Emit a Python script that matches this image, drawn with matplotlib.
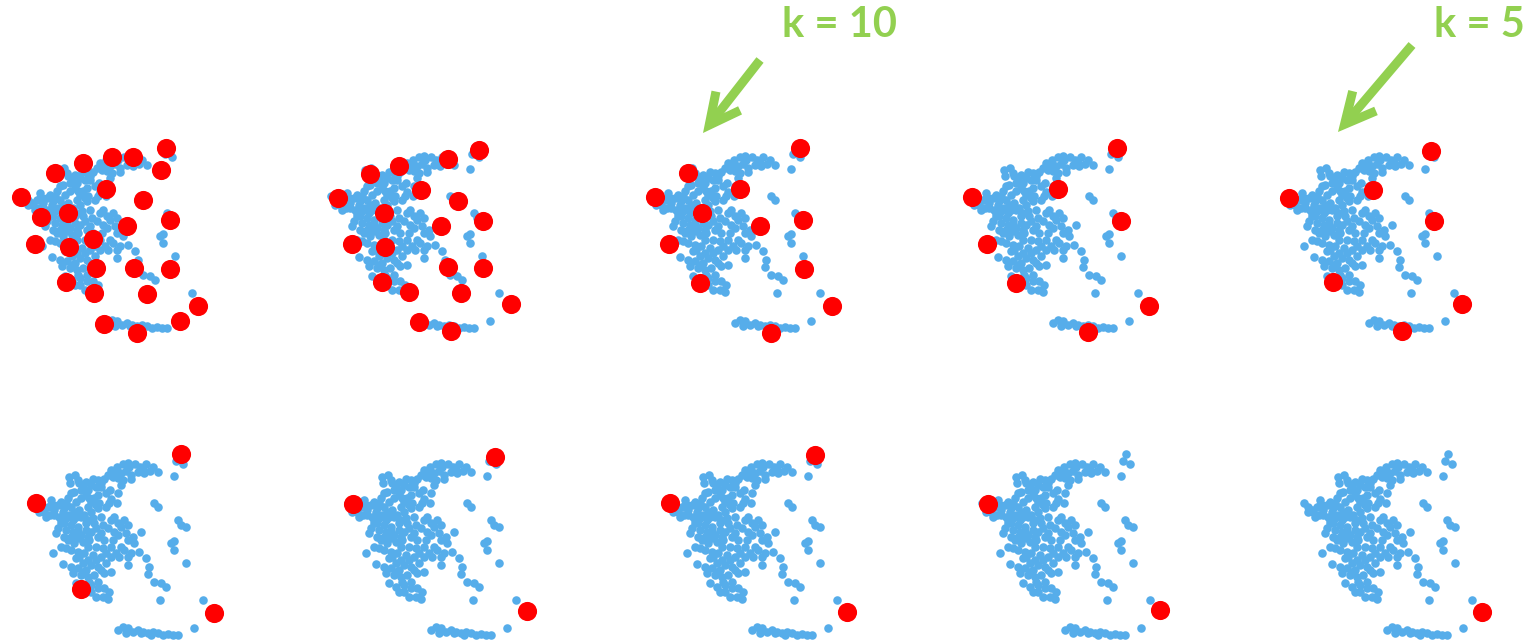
import numpy as np
import matplotlib.pyplot as plt

# point cloud (local panel coords, y grows downward)
cloud_x = np.array([
    505, 495, 517, 490,
    300, 318, 335, 350, 372, 388, 405, 418, 400, 380, 360, 345, 330, 320, 335, 360, 305,
    175, 192, 178, 205, 225, 245, 262, 280, 255, 240, 210, 190, 180, 225, 260, 297, 330, 300, 320, 318, 295, 265, 240, 235,
    72, 85, 100, 118, 95, 120, 140, 150, 165, 180, 130, 155, 145, 175, 205, 195, 220, 240, 260, 270, 245,
    160, 180, 200, 225, 250, 275, 300, 290, 330, 350, 345, 320, 305, 280, 260, 240, 210, 185, 165, 135, 170, 190, 215, 235,
    300, 330, 350, 390, 125, 180, 200, 220, 245, 270, 300, 325, 350, 285, 260, 240, 215, 195, 155, 180, 350, 300, 280, 250,
    230, 210, 195, 215, 240, 260, 240, 255, 275, 290, 280, 215,
    200, 215, 230, 270, 285, 250, 210, 195, 170, 110, 125, 160, 190, 210, 230, 185, 165, 150, 140, 200,
    225, 255, 270, 230, 200, 180, 160, 150, 165, 230, 255, 275, 285, 205, 230, 255, 270, 225, 200, 185,
    235, 225, 260, 295, 315, 340, 310, 320, 340, 310, 285, 255, 230, 365, 370, 360, 385, 270, 290, 315,
    355, 395, 425, 440, 150, 120, 85, 105, 130,
    430, 440, 500, 510, 525, 490, 480, 490, 525, 405, 415, 410, 430, 450, 465, 447, 575, 550,
    320, 335, 350, 365, 380, 395, 410, 425, 440, 455, 470, 485, 500, 345, 390, 420,
]) / 3.0
cloud_y = np.array([
    42, 62, 72, 108,
    90, 82, 72, 68, 72, 82, 72, 92, 100, 95, 105, 92, 100, 115, 120, 118, 110,
    112, 105, 130, 128, 125, 118, 120, 118, 140, 135, 150, 155, 160, 165, 165, 150, 135, 178, 160, 190, 190, 190, 185, 175,
    188, 200, 215, 225, 210, 180, 195, 185, 190, 200, 210, 215, 230, 225, 210, 230, 225, 215, 205, 230, 235,
    250, 255, 260, 250, 250, 255, 240, 265, 260, 255, 280, 285, 300, 300, 290, 275, 285, 275, 270, 280, 300, 310, 305, 300,
    320, 320, 300, 275, 338, 330, 335, 340, 345, 350, 350, 350, 350, 370, 380, 375, 370, 355, 372, 380, 375, 395, 400, 405,
    410, 405, 430, 440, 435, 425, 455, 470, 470, 478, 445, 395,
    120, 140, 150, 140, 160, 175, 175, 185, 175, 200, 195, 205, 215, 230, 240, 240, 235, 250, 265, 275,
    270, 265, 280, 290, 295, 290, 290, 320, 325, 320, 320, 325, 340, 350, 360, 360, 390, 390, 385, 400,
    425, 455, 445, 455, 340, 330, 230, 250, 240, 275, 200, 195, 200, 290, 310, 340, 335, 130, 105, 100,
    82, 90, 80, 95, 240, 195, 215, 230, 225,
    188, 200, 240, 255, 262, 302, 310, 330, 370, 355, 380, 402, 425, 430, 440, 480, 480, 565,
    570, 560, 565, 575, 570, 575, 580, 575, 580, 585, 582, 585, 585, 578, 580, 585,
]) / 3.0

# centres per panel, top row then bottom row
top_centres = [
    [(166, 15), (161, 37), (133, 24), (112, 24), (83, 30), (55, 40), (106, 56), (21, 64),
     (143, 67), (41, 84), (68, 80), (170, 87), (127, 93), (35, 111), (69, 114), (93, 106),
     (96, 135), (134, 135), (170, 136), (66, 149), (94, 160), (147, 161), (198, 173),
     (180, 188), (104, 191), (137, 200)],
    [(172, 17), (141, 26), (92, 33), (63, 41), (114, 57), (31, 65), (151, 68), (77, 80),
     (176, 88), (134, 93), (45, 111), (78, 114), (141, 134), (176, 135), (75, 149),
     (102, 159), (154, 160), (204, 171), (112, 189), (144, 198)],
    [(172, 15), (60, 40), (112, 56), (27, 64), (74, 80), (175, 87), (132, 93), (41, 111),
     (176, 136), (72, 150), (204, 173), (143, 200)],
    [(171, 15), (112, 56), (26, 64), (175, 88), (41, 111), (70, 150), (203, 173), (142, 199)],
    [(169, 18), (111, 57), (27, 65), (172, 88), (71, 149), (200, 171), (140, 198)],
]
bottom_centres = [
    [(170, 14), (25, 63), (70, 149), (203, 173)],
    [(171, 17), (29, 64), (203, 171)],
    [(170, 15), (25, 63), (202, 172)],
    [(30, 64), (202, 170)],
    [(202, 172)],
]

labels = ["k = 10", "k = 5"]

W, H = 1533, 641
fig = plt.figure(figsize=(W / 100, H / 100), dpi=100)

top_x = [0, 307, 628, 946, 1262]
bot_x = [11, 324, 645, 958, 1280]
PW, PH = 230, 215

def panel(ox, oy, centres):
    ax = fig.add_axes([ox / W, 1 - (oy + PH) / H, PW / W, PH / H])
    ax.set_xlim(0, PW)
    ax.set_ylim(PH, 0)
    ax.axis('off')
    ax.scatter(cloud_x, cloud_y, s=38, color='#56ADEA', linewidths=0, clip_on=False, zorder=2)
    cx = [c[0] for c in centres]
    cy = [c[1] for c in centres]
    ax.scatter(cx, cy, s=190, color='#FF0000', linewidths=0, clip_on=False, zorder=3)
    return ax

for ox, cs in zip(top_x, top_centres):
    panel(ox, 133, cs)
for ox, cs in zip(bot_x, bottom_centres):
    panel(ox, 440, cs)

# annotations: green arrows pointing at panels 3 and 5
green = '#92D050'
ov = fig.add_axes([0, 0, 1, 1])
ov.set_xlim(0, W)
ov.set_ylim(H, 0)
ov.axis('off')
ov.patch.set_alpha(0)

for txt, tx, start, tip in [(labels[0], 840, (760, 60), (703, 133)),
                            (labels[1], 1479, (1412, 45), (1338, 132))]:
    ov.text(tx, 25, txt, color=green, fontsize=30, fontweight='bold',
            family='Lato', ha='center', va='center')
    ov.annotate('', xy=tip, xytext=start,
                arrowprops=dict(arrowstyle='->,head_length=2.2,head_width=1.1',
                                color=green, lw=6.5, capstyle='butt',
                                joinstyle='miter', shrinkA=0, shrinkB=0))

fig.savefig('out.png', dpi=100)
